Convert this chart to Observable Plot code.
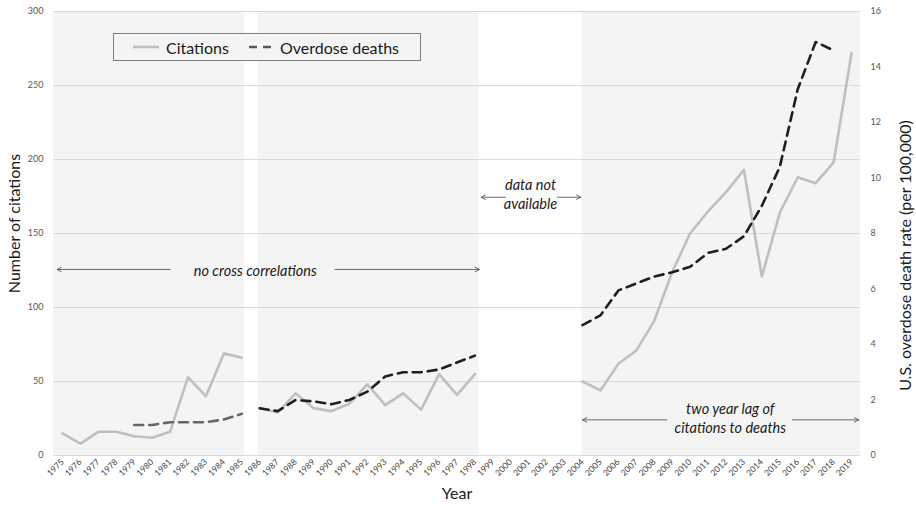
<!DOCTYPE html>
<html>
<head>
<meta charset="utf-8">
<script src="https://cdn.jsdelivr.net/npm/d3@7"></script>
<script src="https://cdn.jsdelivr.net/npm/@observablehq/plot@0.6"></script>
<style>
  html, body { margin: 0; padding: 0; background: #fff; }
  #wrap { position: relative; width: 916px; height: 508px; font-family: Lato, "Open Sans", sans-serif; }
  #legend { position: absolute; left: 113px; top: 33px; width: 306px; height: 26px; border: 1px solid #7f7f7f;
            background: #f3f4f3; display: flex; align-items: center; font-size: 16px; color: #1a1a1a; }
  #legend .item { display: flex; align-items: center; }
  #legend svg { display: block; }
</style>
</head>
<body>
<div id="wrap">
  <div id="chart"></div>
  <div id="legend"></div>
</div>
<script>
// ---- data ----
const years = d3.range(1975, 2020);
const citations = [
  15, 8, 16, 16, 13, 12, 16, 53, 40, 69, 66,          // 1975-1985
  32, 29, 42, 32, 30, 35, 48, 34, 42, 31, 55, 41, 55, // 1986-1998
  null, null, null, null, null,                       // 1999-2003
  50, 44, 62, 71, 91, 124, 150, 165, 178, 193, 121, 164, 188, 184, 198, 272 // 2004-2019
];
const overdoseRate = [
  null, null, null, null, 1.1, 1.1, 1.2, 1.2, 1.2, 1.3, 1.5,          // 1975-1985
  1.7, 1.6, 2.0, 1.95, 1.85, 2.0, 2.3, 2.85, 3.0, 3.0, 3.1, 3.35, 3.6, // 1986-1998
  null, null, null, null, null,                                        // 1999-2003
  4.7, 5.05, 5.95, 6.2, 6.45, 6.6, 6.8, 7.3, 7.45, 7.9, 9.0, 10.4, 13.2, 14.9, 14.6, null // 2004-2019
];
const eraStart = [1975, 1986, 2004];
const eraShadeStart = [1974.5, 1985.9, 2003.97];
const eraShadeEnd = [1985.14, 1998.24, 2019.5];
const leftTicks = [0, 50, 100, 150, 200, 250, 300];
const rightTicks = [0, 2, 4, 6, 8, 10, 12, 14, 16];
const seriesNames = ["Citations", "Overdose deaths"];
const axisTitles = ["Number of citations", "U.S. overdose death rate (per 100,000)", "Year"];

const annotationText = ["no cross correlations", "data not\navailable", "two year lag of\ncitations to deaths"];
const annotationX = [1985.75, 2001.1, 2012.24];
const annotationY = [125.7, 176.8, 25.5];
const arrowX1 = [1981.0, 1990.2, 1999.7, 2002.6, 2008.7, 2015.7];
const arrowX2 = [1974.7, 1998.25, 1998.35, 2003.9, 2004.0, 2019.4];
const arrowY = [125.7, 125.7, 174.5, 174.5, 24.1, 24.1];

// ---- build tables ----
const rateToCit = 300 / 16;
const rows = years.map((year, i) => ({
  year,
  cit: citations[i],
  rate: overdoseRate[i] == null ? null : overdoseRate[i] * rateToCit,
  era: eraStart.filter(s => year >= s).length - 1
}));
const shades = eraShadeStart.map((s, i) => ({start: s, end: eraShadeEnd[i]}));
const notes = annotationText.map((t, i) => ({text: t, x: annotationX[i], y: annotationY[i]}));
const arrows = arrowX1.map((x1, i) => ({x1, x2: arrowX2[i], y: arrowY[i]}));

const chart = Plot.plot({
  width: 916,
  height: 508,
  marginLeft: 53,
  marginRight: 56,
  marginTop: 11,
  marginBottom: 53,
  style: {fontFamily: "Lato, 'Open Sans', sans-serif", fontSize: "9px", color: "#595959", background: "#fff"},
  x: {domain: [1974.5, 2019.5], axis: null},
  y: {domain: [0, 300], axis: null},
  marks: [
    Plot.rect(shades, {x1: "start", x2: "end", y1: 0, y2: 300, fill: "#f3f4f3"}),
    Plot.ruleY(leftTicks, {stroke: "#d9d9d9", strokeWidth: 1}),
    Plot.axisY({ticks: leftTicks, tickSize: 0, tickPadding: 10, label: null, fill: "#595959"}),
    Plot.axisY({anchor: "right", ticks: rightTicks.map(v => v * rateToCit), tickFormat: d => String(Math.round(d / rateToCit)),
                tickSize: 0, tickPadding: 10, label: null, fill: "#595959"}),
    Plot.axisX({ticks: years, tickFormat: d => String(d), tickRotate: -45, tickSize: 0, tickPadding: 5, label: null, fill: "#404040", fontSize: 8.5}),
    Plot.line(rows, {x: "year", y: "cit", z: "era", stroke: "#bfbfbf", strokeWidth: 2.6}),
    Plot.line(rows.filter(d => d.era === 0), {x: "year", y: "rate", z: "era", stroke: "#666666", strokeWidth: 2.6, strokeDasharray: "9,6"}),
    Plot.line(rows.filter(d => d.era > 0), {x: "year", y: "rate", z: "era", stroke: "#1f1f1f", strokeWidth: 2.6, strokeDasharray: "9,6"}),
    Plot.arrow(arrows, {x1: "x1", x2: "x2", y1: "y", y2: "y", stroke: "#595959", strokeWidth: 0.9, headLength: 8, headAngle: 55, bend: 0}),
    Plot.text(notes, {x: "x", y: "y", text: "text", fontStyle: "italic", fontSize: 14.5, fill: "#1a1a1a", lineHeight: 1.3}),
    Plot.text([axisTitles[0]], {frameAnchor: "left", textAnchor: "middle", text: d => d, rotate: -90, dx: -39, dy: -10, fontSize: 16, fill: "#1a1a1a"}),
    Plot.text([axisTitles[1]], {frameAnchor: "right", textAnchor: "middle", text: d => d, rotate: -90, dx: 45, dy: 22, fontSize: 16, fill: "#1a1a1a"}),
    Plot.text([axisTitles[2]], {frameAnchor: "bottom", textAnchor: "middle", text: d => d, dy: 43, fontSize: 16, fill: "#1a1a1a"})
  ]
});
document.getElementById("chart").appendChild(chart);

// ---- legend ----
const legend = document.getElementById("legend");
const sampleStyles = [
  {stroke: "#bfbfbf", dash: null},
  {stroke: "#595959", dash: "8,6"}
];
seriesNames.forEach((name, i) => {
  const item = document.createElement("div");
  item.className = "item";
  item.style.marginLeft = i === 0 ? "19px" : "18px";
  const s = sampleStyles[i];
  item.innerHTML =
    `<svg width="26" height="10"><line x1="0" y1="5" x2="26" y2="5" stroke="${s.stroke}" stroke-width="2.6" ${s.dash ? `stroke-dasharray="${s.dash}" stroke-dashoffset="-2"` : ""}/></svg>` +
    `<span style="margin-left:7px">${name}</span>`;
  legend.appendChild(item);
});
</script>
</body>
</html>
